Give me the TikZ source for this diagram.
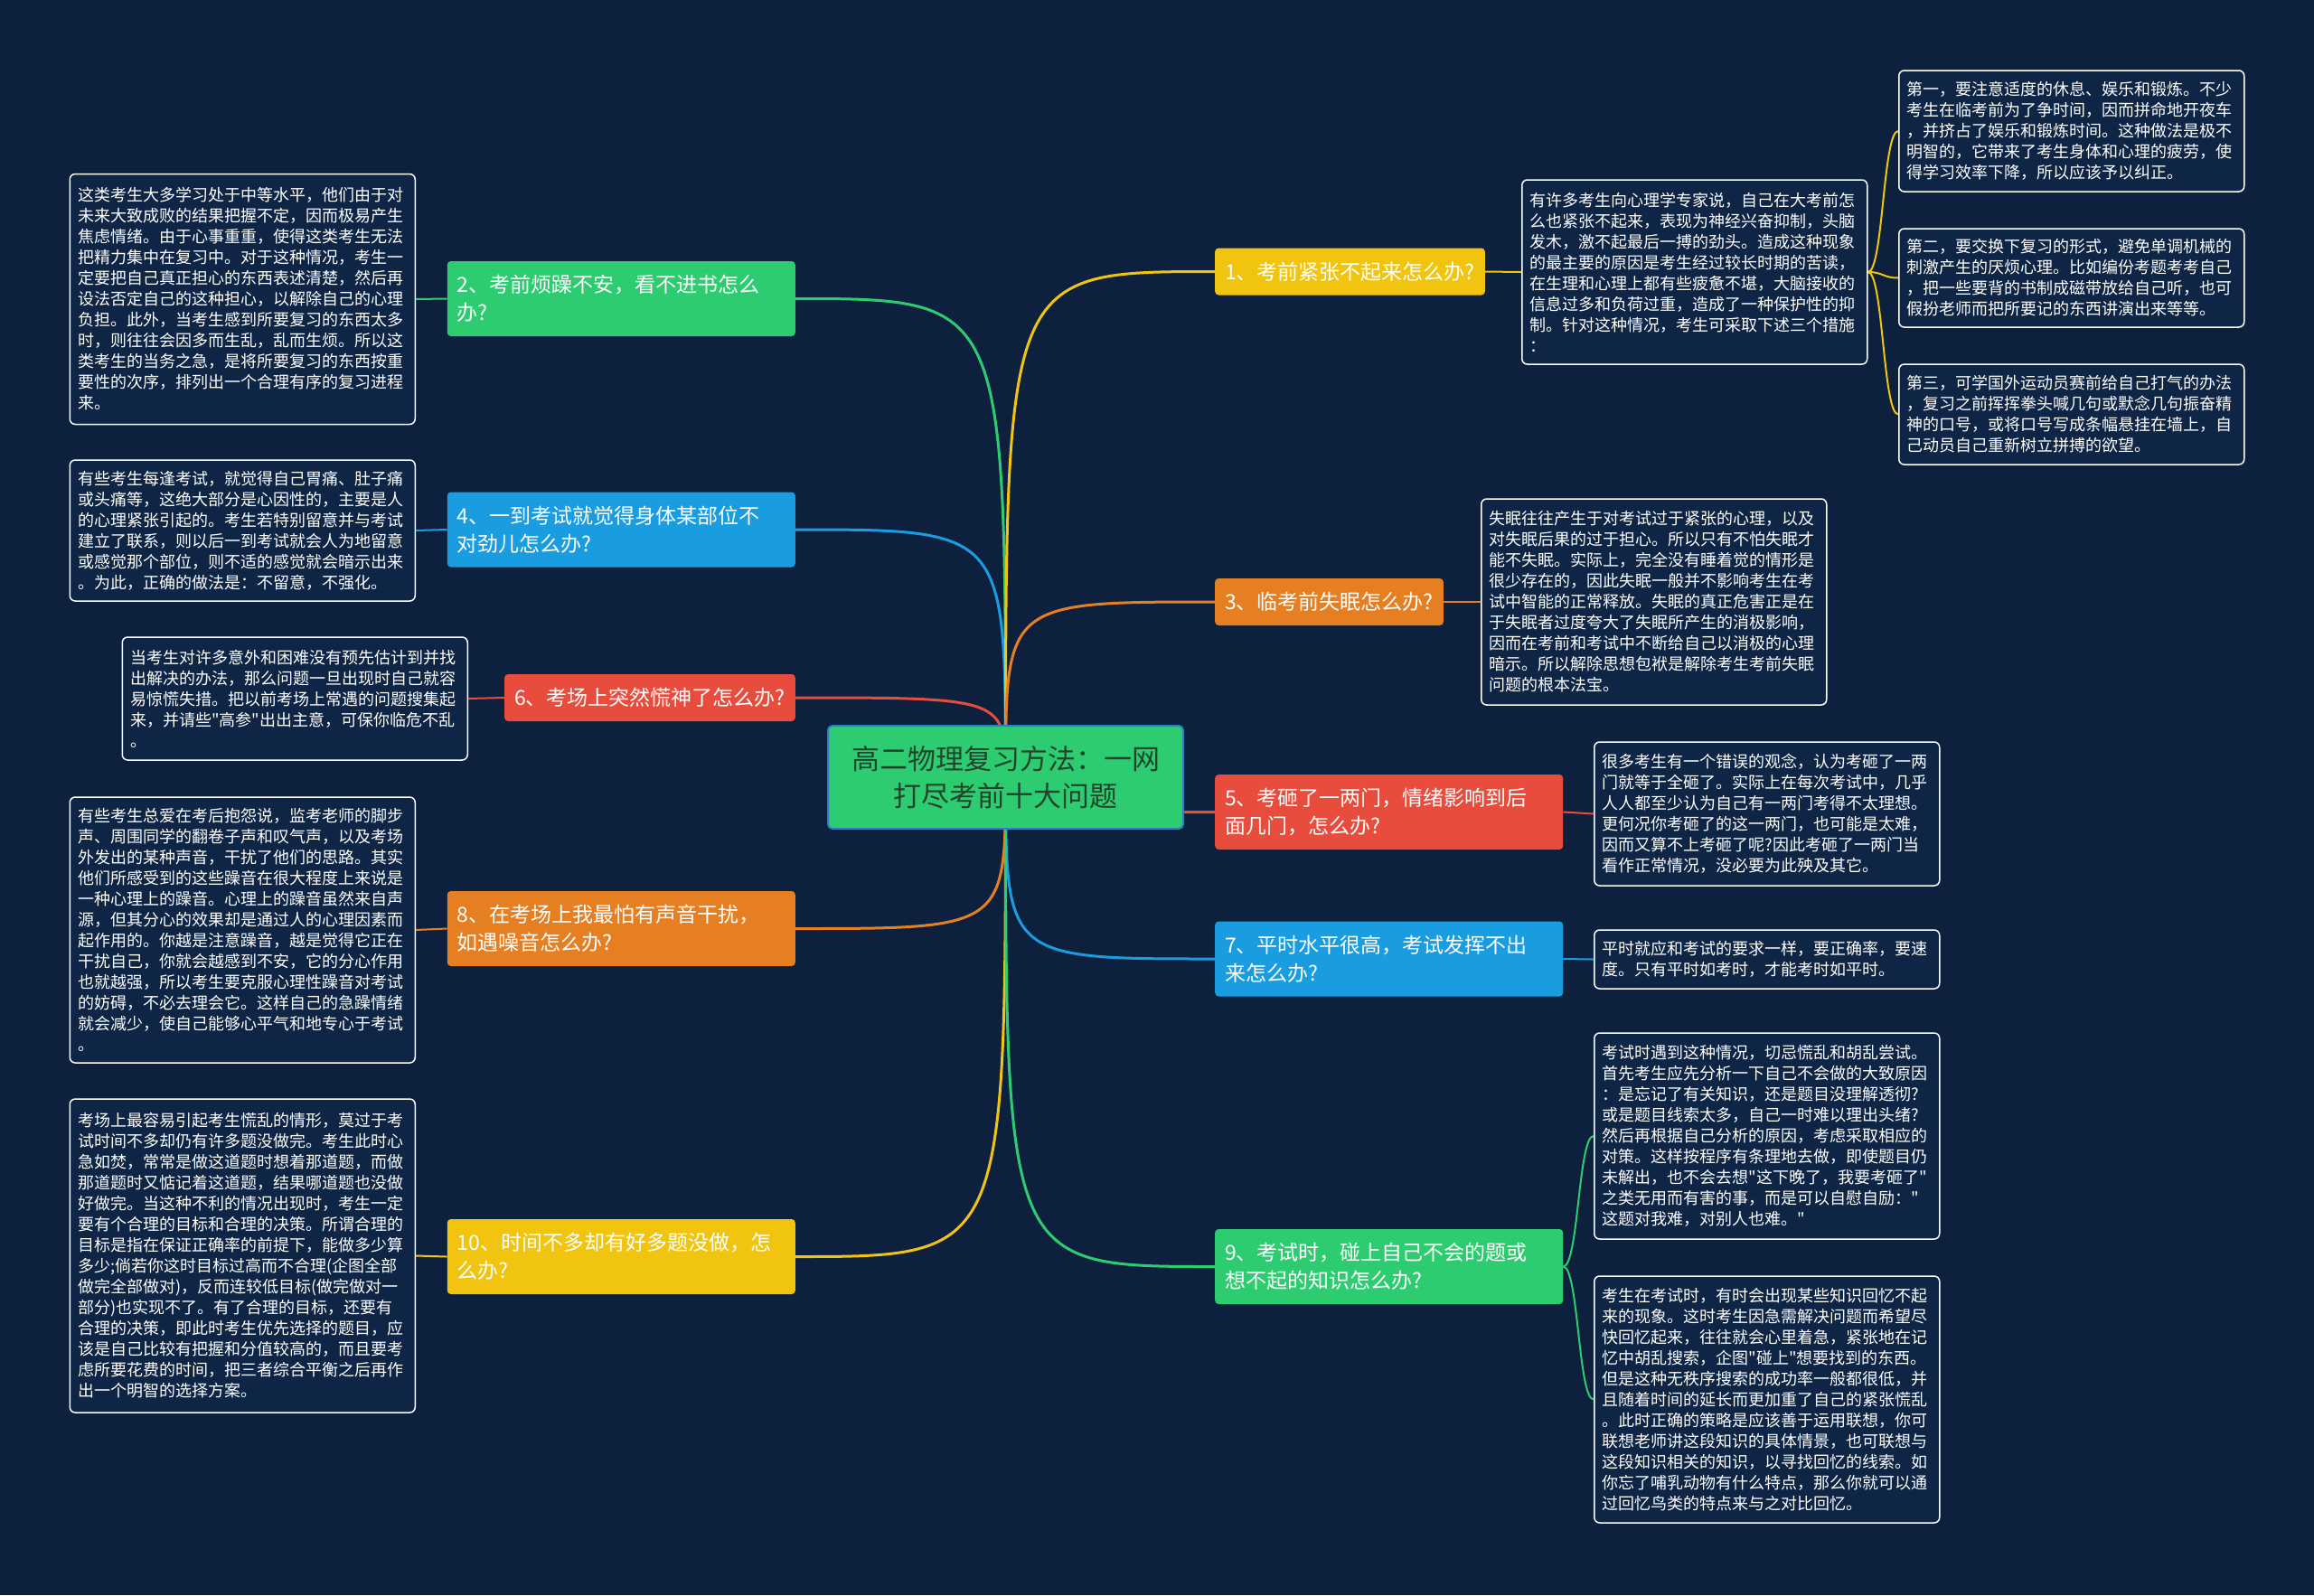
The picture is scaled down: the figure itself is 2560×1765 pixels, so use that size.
\documentclass[tikz,border=0pt]{standalone}
\usepackage{fontspec}
\setmainfont{Noto Sans CJK SC}[Ligatures=TeXOff]
\usetikzlibrary{calc}
\definecolor{bgc}{RGB}{13,33,62}
\definecolor{leaffill}{RGB}{14,37,69}
\definecolor{cyel}{RGB}{241,196,15}
\definecolor{cora}{RGB}{230,126,34}
\definecolor{cred}{RGB}{231,76,60}
\definecolor{cblu}{RGB}{26,157,224}
\definecolor{cgrn}{RGB}{46,204,113}
\definecolor{ctxt}{RGB}{32,68,44}
\definecolor{hubedge}{RGB}{41,128,200}
\pgfdeclarelayer{back}
\pgfdeclarelayer{lines}
\pgfsetlayers{back,lines,main}
\tikzset{
  hub/.style={draw=hubedge, line width=2pt, fill=cgrn, rounded corners=5pt, text=ctxt,
    font=\fontsize{31}{41}\selectfont, align=center, minimum width=393pt, minimum height=114pt, inner sep=0pt},
  branch/.style={rounded corners=4pt, text=white, font=\fontsize{23}{31}\selectfont,
    align=left, inner xsep=11pt, inner ysep=0pt, minimum height=52pt},
  branchw/.style={branch, text width=363pt, minimum height=83pt},
  leaf/.style={draw=white, line width=1.5pt, fill=leaffill, rounded corners=6pt, text=white,
    font=\fontsize{18}{23}\selectfont, align=left, text width=364pt, inner xsep=9pt, inner ysep=0pt},
  mainline/.style={line width=3pt},
  subline/.style={line width=2pt},
}
\begin{document}
\begin{tikzpicture}[x=1pt,y=-1pt]
\begin{pgfonlayer}{back}
\fill[bgc] (0,0) rectangle (2560,1765);
\end{pgfonlayer}
\useasboundingbox (0,0) rectangle (2560,1765);

% centre
\node[hub] (c) at (1112.5,860) {高二物理复习方法：一网\\打尽考前十大问题};

% left branches
\node[branchw, fill=cgrn, anchor=east] (b2) at (880,330.5) {2、考前烦躁不安，看不进书怎么\\办?};
\node[branchw, fill=cblu, anchor=east] (b4) at (880,586) {4、一到考试就觉得身体某部位不\\对劲儿怎么办?};
\node[branch, fill=cred, anchor=east] (b6) at (880,772) {6、考场上突然慌神了怎么办?};
\node[branchw, fill=cora, anchor=east] (b8) at (880,1027.5) {8、在考场上我最怕有声音干扰，\\如遇噪音怎么办?};
\node[branchw, fill=cyel, anchor=east] (b10) at (880,1390.5) {10、时间不多却有好多题没做，怎\\么办?};

% right branches
\node[branch, fill=cyel, anchor=west] (b1) at (1344,300.5) {1、考前紧张不起来怎么办?};
\node[branch, fill=cora, anchor=west] (b3) at (1344,666) {3、临考前失眠怎么办?};
\node[branchw, fill=cred, anchor=west] (b5) at (1344,898.5) {5、考砸了一两门，情绪影响到后\\面几门，怎么办?};
\node[branchw, fill=cblu, anchor=west] (b7) at (1344,1061) {7、平时水平很高，考试发挥不出\\来怎么办?};
\node[branchw, fill=cgrn, anchor=west] (b9) at (1344,1401.5) {9、考试时，碰上自己不会的题或\\想不起的知识怎么办?};

% left leaves
\node[leaf, anchor=east, minimum height=277pt] (l2) at (460,331) {这类考生大多学习处于中等水平，他们由于对\\未来大致成败的结果把握不定，因而极易产生\\焦虑情绪。由于心事重重，使得这类考生无法\\把精力集中在复习中。对于这种情况，考生一\\定要把自己真正担心的东西表述清楚，然后再\\设法否定自己的这种担心，以解除自己的心理\\负担。此外，当考生感到所要复习的东西太多\\时，则往往会因多而生乱，乱而生烦。所以这\\类考生的当务之急，是将所要复习的东西按重\\要性的次序，排列出一个合理有序的复习进程\\来。};
\node[leaf, anchor=east, minimum height=156pt] (l4) at (460,587) {有些考生每逢考试，就觉得自己胃痛、肚子痛\\或头痛等，这绝大部分是心因性的，主要是人\\的心理紧张引起的。考生若特别留意并与考试\\建立了联系，则以后一到考试就会人为地留意\\或感觉那个部位，则不适的感觉就会暗示出来\\。为此，正确的做法是：不留意，不强化。};
\node[leaf, anchor=east, minimum height=136pt] (l6) at (518,773) {当考生对许多意外和困难没有预先估计到并找\\出解决的办法，那么问题一旦出现时自己就容\\易惊慌失措。把以前考场上常遇的问题搜集起\\来，并请些"高参"出出主意，可保你临危不乱\\。};
\node[leaf, anchor=east, minimum height=294pt] (l8) at (460,1029) {有些考生总爱在考后抱怨说，监考老师的脚步\\声、周围同学的翻卷子声和叹气声，以及考场\\外发出的某种声音，干扰了他们的思路。其实\\他们所感受到的这些躁音在很大程度上来说是\\一种心理上的躁音。心理上的躁音虽然来自声\\源，但其分心的效果却是通过人的心理因素而\\起作用的。你越是注意躁音，越是觉得它正在\\干扰自己，你就会越感到不安，它的分心作用\\也就越强，所以考生要克服心理性躁音对考试\\的妨碍，不必去理会它。这样自己的急躁情绪\\就会减少，使自己能够心平气和地专心于考试\\。};
\node[leaf, anchor=east, minimum height=347pt] (l10) at (460,1389.5) {考场上最容易引起考生慌乱的情形，莫过于考\\试时间不多却仍有许多题没做完。考生此时心\\急如焚，常常是做这道题时想着那道题，而做\\那道题时又惦记着这道题，结果哪道题也没做\\好做完。当这种不利的情况出现时，考生一定\\要有个合理的目标和合理的决策。所谓合理的\\目标是指在保证正确率的前提下，能做多少算\\多少;倘若你这时目标过高而不合理(企图全部\\做完全部做对)，反而连较低目标(做完做对一\\部分)也实现不了。有了合理的目标，还要有\\合理的决策，即此时考生优先选择的题目，应\\该是自己比较有把握和分值较高的，而且要考\\虑所要花费的时间，把三者综合平衡之后再作\\出一个明智的选择方案。};

% right leaves
\node[leaf, anchor=west, minimum height=204pt] (r1) at (1683,301) {有许多考生向心理学专家说，自己在大考前怎\\么也紧张不起来，表现为神经兴奋抑制，头脑\\发木，激不起最后一搏的劲头。造成这种现象\\的最主要的原因是考生经过较长时期的苦读，\\在生理和心理上都有些疲惫不堪，大脑接收的\\信息过多和负荷过重，造成了一种保护性的抑\\制。针对这种情况，考生可采取下述三个措施\\：};
\node[leaf, anchor=west, minimum height=134pt] (r1a) at (2100,145) {第一，要注意适度的休息、娱乐和锻炼。不少\\考生在临考前为了争时间，因而拼命地开夜车\\，并挤占了娱乐和锻炼时间。这种做法是极不\\明智的，它带来了考生身体和心理的疲劳，使\\得学习效率下降，所以应该予以纠正。};
\node[leaf, anchor=west, minimum height=109pt] (r1b) at (2100,307.5) {第二，要交换下复习的形式，避免单调机械的\\刺激产生的厌烦心理。比如编份考题考考自己\\，把一些要背的书制成磁带放给自己听，也可\\假扮老师而把所要记的东西讲演出来等等。};
\node[leaf, anchor=west, minimum height=111pt] (r1c) at (2100,458.5) {第三，可学国外运动员赛前给自己打气的办法\\，复习之前挥挥拳头喊几句或默念几句振奋精\\神的口号，或将口号写成条幅悬挂在墙上，自\\己动员自己重新树立拼搏的欲望。};
\node[leaf, anchor=west, minimum height=228pt] (r3) at (1638,666) {失眠往往产生于对考试过于紧张的心理，以及\\对失眠后果的过于担心。所以只有不怕失眠才\\能不失眠。实际上，完全没有睡着觉的情形是\\很少存在的，因此失眠一般并不影响考生在考\\试中智能的正常释放。失眠的真正危害正是在\\于失眠者过度夸大了失眠所产生的消极影响，\\因而在考前和考试中不断给自己以消极的心理\\暗示。所以解除思想包袱是解除考生考前失眠\\问题的根本法宝。};
\node[leaf, anchor=west, minimum height=159pt] (r5) at (1763,900.5) {很多考生有一个错误的观念，认为考砸了一两\\门就等于全砸了。实际上在每次考试中，几乎\\人人都至少认为自己有一两门考得不太理想。\\更何况你考砸了的这一两门，也可能是太难，\\因而又算不上考砸了呢?因此考砸了一两门当\\看作正常情况，没必要为此殃及其它。};
\node[leaf, anchor=west, minimum height=65pt] (r7) at (1763,1061.5) {平时就应和考试的要求一样，要正确率，要速\\度。只有平时如考时，才能考时如平时。};
\node[leaf, anchor=west, minimum height=228pt] (r9a) at (1763,1257) {考试时遇到这种情况，切忌慌乱和胡乱尝试。\\首先考生应先分析一下自己不会做的大致原因\\：是忘记了有关知识，还是题目没理解透彻?\\或是题目线索太多，自己一时难以理出头绪?\\然后再根据自己分析的原因，考虑采取相应的\\对策。这样按程序有条理地去做，即使题目仍\\未解出，也不会去想"这下晚了，我要考砸了"\\之类无用而有害的事，而是可以自慰自励："\\这题对我难，对别人也难。"};
\node[leaf, anchor=west, minimum height=273pt] (r9b) at (1763,1548.5) {考生在考试时，有时会出现某些知识回忆不起\\来的现象。这时考生因急需解决问题而希望尽\\快回忆起来，往往就会心里着急，紧张地在记\\忆中胡乱搜索，企图"碰上"想要找到的东西。\\但是这种无秩序搜索的成功率一般都很低，并\\且随着时间的延长而更加重了自己的紧张慌乱\\。此时正确的策略是应该善于运用联想，你可\\联想老师讲这段知识的具体情景，也可联想与\\这段知识相关的知识，以寻找回忆的线索。如\\你忘了哺乳动物有什么特点，那么你就可以通\\过回忆鸟类的特点来与之对比回忆。};

\begin{pgfonlayer}{lines}
% centre to branches
\draw[mainline, cgrn] (c.center) .. controls (c.center |- b2.east) .. (b2.east);
\draw[mainline, cblu] (c.center) .. controls (c.center |- b4.east) .. (b4.east);
\draw[mainline, cred] (c.center) .. controls (c.center |- b6.east) .. (b6.east);
\draw[mainline, cora] (c.center) .. controls (c.center |- b8.east) .. (b8.east);
\draw[mainline, cyel] (c.center) .. controls (c.center |- b10.east) .. (b10.east);
\draw[mainline, cyel] (c.center) .. controls (c.center |- b1.west) .. (b1.west);
\draw[mainline, cora] (c.center) .. controls (c.center |- b3.west) .. (b3.west);
\draw[mainline, cred] (c.center) .. controls (c.center |- b5.west) .. (b5.west);
\draw[mainline, cblu] (c.center) .. controls (c.center |- b7.west) .. (b7.west);
\draw[mainline, cgrn] (c.center) .. controls (c.center |- b9.west) .. (b9.west);
% branches to leaves
\draw[subline, cgrn] (b2.west) -- (l2.east);
\draw[subline, cblu] (b4.west) -- (l4.east);
\draw[subline, cred] (b6.west) -- (l6.east);
\draw[subline, cora] (b8.west) -- (l8.east);
\draw[subline, cyel] (b10.west) -- (l10.east);
\draw[subline, cyel] (b1.east) -- (r1.west);
\draw[subline, cora] (b3.east) -- (r3.west);
\draw[subline, cred] (b5.east) -- (r5.west);
\draw[subline, cblu] (b7.east) -- (r7.west);
\draw[subline, cgrn] (b9.east) .. controls +(17,0) and +(-17,0) .. (r9a.west);
\draw[subline, cgrn] (b9.east) .. controls +(17,0) and +(-17,0) .. (r9b.west);
\draw[subline, cyel] (r1.east) .. controls +(17,0) and +(-17,0) .. (r1a.west);
\draw[subline, cyel] (r1.east) .. controls +(17,0) and +(-17,0) .. (r1b.west);
\draw[subline, cyel] (r1.east) .. controls +(17,0) and +(-17,0) .. (r1c.west);
\end{pgfonlayer}
\end{tikzpicture}
\end{document}
